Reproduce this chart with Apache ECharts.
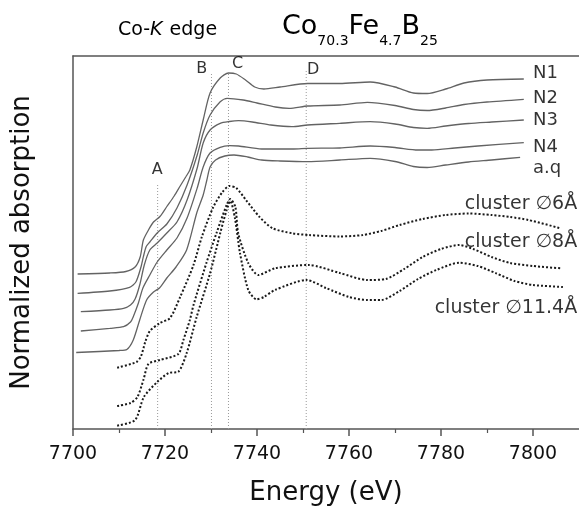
<!DOCTYPE html>
<html>
<head>
<meta charset="utf-8">
<script src="https://cdn.jsdelivr.net/npm/echarts@6/dist/echarts.min.js"></script>
<style>
html,body{margin:0;padding:0;background:#fff;}
#c{width:579px;height:511px;}
</style>
</head>
<body>
<div id="c"></div>
<script>
// ---------- data (energy eV, normalized absorption with vertical offsets, arbitrary units) ----------
const N1 = [[7701,1.55],[7708,1.56],[7711.5,1.575],[7713.5,1.62],[7714.6,1.72],[7715.3,1.89],[7716.4,1.99],[7717.5,2.07],[7718.9,2.125],[7720.4,2.225],[7722,2.33],[7723.3,2.43],[7724.5,2.52],[7725.4,2.59],[7726.9,2.82],[7728.3,3.09],[7729.8,3.36],[7732,3.51],[7733.8,3.56],[7735.5,3.55],[7737.5,3.49],[7739.5,3.42],[7741.5,3.40],[7745,3.42],[7751,3.455],[7758,3.455],[7764.6,3.47],[7770,3.42],[7774,3.36],[7777,3.355],[7781,3.40],[7785,3.46],[7790,3.49],[7798,3.50]];
const N2 = [[7701,1.357],[7708,1.38],[7712.3,1.417],[7713.7,1.473],[7714.8,1.623],[7715.3,1.723],[7715.9,1.823],[7716.7,1.87],[7718.3,1.96],[7720.4,2.05],[7722.6,2.21],[7724.8,2.44],[7727,2.74],[7728.3,2.96],[7729.8,3.14],[7732,3.273],[7733.5,3.307],[7737,3.29],[7740,3.26],[7744,3.22],[7747,3.207],[7751,3.23],[7758,3.24],[7764,3.267],[7770,3.235],[7774,3.195],[7777,3.185],[7781,3.21],[7785,3.245],[7790,3.27],[7798,3.297]];
const N3 = [[7701.7,1.173],[7708,1.19],[7711,1.207],[7712.5,1.24],[7713.5,1.30],[7714.5,1.44],[7715.5,1.64],[7716.7,1.79],[7718.3,1.86],[7720.4,1.96],[7722.6,2.07],[7724.8,2.29],[7727,2.61],[7728.3,2.86],[7729.8,2.99],[7732,3.057],[7734,3.075],[7736,3.083],[7739,3.07],[7743,3.04],[7747.6,3.023],[7751,3.04],[7758,3.057],[7764.6,3.073],[7770,3.05],[7774,3.015],[7777,3.007],[7781,3.03],[7786,3.055],[7791,3.07],[7798,3.09]];
const N4 = [[7701.7,0.98],[7708,1.007],[7711,1.023],[7712.5,1.07],[7713.1,1.123],[7714.2,1.257],[7715.2,1.41],[7716.7,1.54],[7718.3,1.67],[7720.4,1.79],[7722.6,1.91],[7724.8,2.11],[7727,2.41],[7728.3,2.62],[7729.8,2.76],[7732,2.817],[7734,2.833],[7736,2.83],[7741,2.80],[7748,2.80],[7751,2.807],[7758,2.81],[7764.6,2.83],[7770,2.815],[7775,2.79],[7778,2.79],[7783,2.81],[7788,2.83],[7798,2.863]];
const AQ = [[7700.7,0.765],[7710,0.785],[7711.7,0.795],[7713.1,0.89],[7714.5,1.09],[7716,1.29],[7717.5,1.37],[7718.8,1.41],[7720.4,1.51],[7722.4,1.62],[7724.7,1.79],[7726.9,2.16],[7728.3,2.34],[7729.1,2.49],[7729.8,2.62],[7731,2.69],[7733,2.73],[7735,2.74],[7738,2.72],[7741,2.69],[7745,2.68],[7751,2.673],[7758,2.69],[7764.6,2.707],[7770,2.675],[7774,2.625],[7777,2.615],[7781,2.64],[7786,2.67],[7791,2.69],[7797.2,2.717]];
const C6 = [[7709.6,0.613],[7713.8,0.67],[7714.8,0.73],[7715.7,0.87],[7716.7,0.98],[7718.9,1.06],[7721.1,1.11],[7723.3,1.32],[7726.2,1.64],[7728,1.92],[7730.5,2.22],[7732.5,2.37],[7734,2.43],[7735.5,2.41],[7737.6,2.29],[7740.5,2.123],[7743.4,2.007],[7747.7,1.957],[7751.3,1.94],[7758,1.925],[7763,1.94],[7767,1.98],[7771,2.04],[7776,2.10],[7781,2.14],[7786,2.155],[7791,2.14],[7795,2.12],[7799,2.09],[7806,2.007]];
const C8 = [[7709.6,0.23],[7712.5,0.26],[7714,0.32],[7715.3,0.49],[7716.4,0.65],[7718.9,0.69],[7722.9,0.75],[7724,0.89],[7725.4,1.09],[7726.2,1.24],[7729,1.66],[7731.2,1.96],[7733.4,2.24],[7734.2,2.30],[7735.3,2.22],[7735.9,1.96],[7738.1,1.66],[7740.3,1.54],[7743.9,1.607],[7751.2,1.64],[7758,1.56],[7764,1.49],[7768,1.50],[7772,1.60],[7776,1.72],[7780,1.80],[7784,1.84],[7787,1.80],[7791,1.72],[7795,1.66],[7800,1.63],[7806,1.607]];
const C11 = [[7709.6,0.033],[7713.5,0.09],[7715.4,0.32],[7718.3,0.47],[7720.8,0.56],[7722.9,0.573],[7724.7,0.757],[7726.9,1.123],[7729.8,1.557],[7732,1.957],[7733.4,2.19],[7734.2,2.28],[7735.2,2.11],[7736.3,1.76],[7738.1,1.39],[7739.9,1.297],[7741.5,1.32],[7743.9,1.39],[7750.8,1.49],[7755,1.41],[7760,1.32],[7764,1.29],[7767,1.29],[7771,1.38],[7775,1.50],[7779,1.59],[7784,1.663],[7788,1.63],[7792,1.557],[7796,1.48],[7800,1.44],[7806.5,1.42]];

const solidNames = ['N1','N2','N3','N4','a.q'];
const solidData = [N1, N2, N3, N4, AQ];
const clusterNames = ['cluster ∅6Å','cluster ∅8Å','cluster ∅11.4Å'];
const clusterData = [C6, C8, C11];

// curve label anchors (energy, value)
const solidLabelAt = [[7800,3.557],[7800,3.307],[7800,3.09],[7800,2.817],[7800,2.607]];
const clusterLabelAt = [[7809.6,2.25],[7809.6,1.873],[7809.6,1.207]];

// feature guides A-D
const guideNames = ['A','B','C','D'];
const guideEnergy = [7718.4, 7730.1, 7733.8, 7750.7];
const guideTop = [2.46, 3.55, 3.56, 3.59];
const guideLabelAt = [[7718.3,2.59],[7728,3.60],[7735.8,3.65],[7752.2,3.59]];

const majorTicks = [7700,7720,7740,7760,7780,7800];
const minorTicks = [7710,7730,7750,7770,7790];
const formulaParts = ['Co','70.3','Fe','4.7','B','25'];

// ---------- chart ----------
const FONT = 'DejaVu Sans';
const chart = echarts.init(document.getElementById('c'), null, {renderer:'canvas'});

const series = [];
guideEnergy.forEach((e,i)=>{
  series.push({type:'line', data:[[e,0],[e,guideTop[i]]], symbol:'none', silent:true,
    lineStyle:{color:'#9a9a9a', width:1, type:[1,2]}, z:1});
});
solidData.forEach((d,i)=>{
  series.push({name:solidNames[i], type:'line', data:d, symbol:'none', smooth:0.25,
    lineStyle:{color:'#636363', width:1.3}, z:3});
});
clusterData.forEach((d,i)=>{
  series.push({name:clusterNames[i], type:'line', data:d, symbol:'none', smooth:0.25,
    lineStyle:{color:'#1a1a1a', width:2, type:[2,2]}, z:3});
});
series.push({type:'scatter', symbolSize:0, silent:true, z:5,
  data: solidLabelAt.map((p,i)=>({value:p, name:solidNames[i]})),
  label:{show:true, position:[0,0], align:'left', verticalAlign:'middle', formatter:'{b}',
    fontFamily:FONT, fontSize:18, color:'#000'}});
series.push({type:'scatter', symbolSize:0, silent:true, z:5,
  data: clusterLabelAt.map((p,i)=>({value:p, name:clusterNames[i]})),
  label:{show:true, position:[0,0], align:'right', verticalAlign:'middle', formatter:'{b}',
    fontFamily:FONT, fontSize:19, color:'#000'}});
series.push({type:'scatter', symbolSize:0, silent:true, z:5,
  data: guideLabelAt.map((p,i)=>({value:p, name:guideNames[i]})),
  label:{show:true, position:[0,0], align:'center', verticalAlign:'middle', formatter:'{b}',
    fontFamily:FONT, fontSize:16, color:'#000'}});

// title pieces laid out with measured widths
const ctx = document.createElement('canvas').getContext('2d');
function tw(t, s){ ctx.font = s + 'px "' + FONT + '"'; return ctx.measureText(t).width; }
const graphic = [];
graphic.push({type:'text', x:118, y:30, style:{text:'Co-', fontFamily:FONT, fontSize:19, fill:'#000', verticalAlign:'middle'}});
let gx = 118 + tw('Co-',19);
graphic.push({type:'text', x:gx, y:30, style:{text:'K', fontFamily:FONT, fontSize:19, fontStyle:'italic', fill:'#000', verticalAlign:'middle'}});
gx += tw('K',19) + 1;
graphic.push({type:'text', x:gx, y:30, style:{text:' edge', fontFamily:FONT, fontSize:19, fill:'#000', verticalAlign:'middle'}});
let fx = 282;
formulaParts.forEach((t,i)=>{
  const sub = i % 2 === 1;
  const s = sub ? 14 : 27;
  graphic.push({type:'text', x:fx, y: sub ? 41.5 : 27, style:{text:t, fontFamily:FONT, fontSize:s, fill:'#000', verticalAlign:'middle'}});
  fx += tw(t, s);
});

const axisLine = {show:true, lineStyle:{color:'#555', width:1.5}};
chart.setOption({
  animation:false,
  backgroundColor:'#fff',
  grid:{left:73, top:56, right:0, bottom:82, containLabel:false, outerBoundsMode:'none'},
  xAxis:[
    {type:'value', min:7700, max:7810, position:'bottom',
     axisLine:axisLine,
     axisTick:{show:true, inside:false, length:7, customValues:majorTicks, lineStyle:{color:'#555', width:1.5}},
     axisLabel:{show:true, customValues:majorTicks, margin:16, fontFamily:FONT, fontSize:19, color:'#111',
       formatter:(v)=>String(v)},
     splitLine:{show:false},
     name:'Energy (eV)', nameLocation:'middle', nameGap:51,
     nameTextStyle:{fontFamily:FONT, fontSize:26, color:'#111'}},
    {type:'value', min:7700, max:7810, position:'bottom', offset:0,
     axisLine:{show:false},
     axisTick:{show:true, inside:false, length:4, customValues:minorTicks, lineStyle:{color:'#555', width:1.2}},
     axisLabel:{show:false}, splitLine:{show:false}},
    {type:'value', min:7700, max:7810, position:'top',
     axisLine:axisLine, axisTick:{show:false}, axisLabel:{show:false}, splitLine:{show:false}}
  ],
  yAxis:{type:'value', min:0, max:3.73, position:'left',
    axisLine:axisLine, axisTick:{show:false}, axisLabel:{show:false}, splitLine:{show:false},
    name:'Normalized absorption', nameLocation:'middle', nameGap:38,
    nameTextStyle:{fontFamily:FONT, fontSize:26, color:'#111'}},
  graphic: graphic,
  series: series
});
</script>
</body>
</html>
